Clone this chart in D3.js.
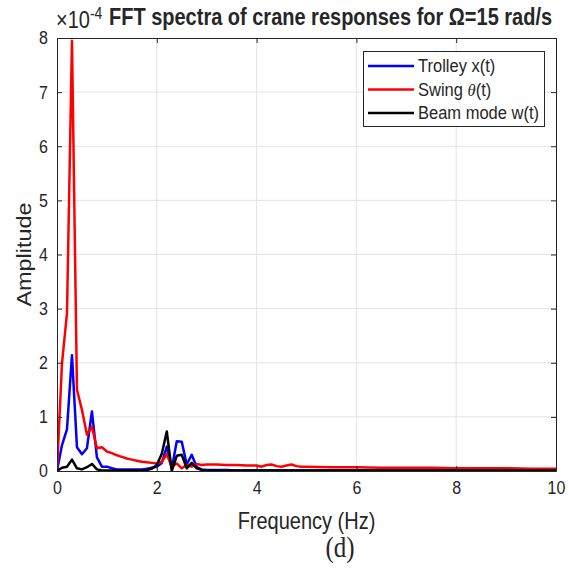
<!DOCTYPE html>
<html>
<head>
<meta charset="utf-8">
<script src="https://cdn.jsdelivr.net/npm/d3@7"></script>
<style>
	body { margin:0; background:white; }
	text { font-family:"Liberation Sans", Arial, sans-serif; fill:#262626; }
</style>
</head>
<body>
<script>
//frequency bins (Hz), amplitudes are in units of 1e-4
var freq = [0,0.1,0.2,0.3,0.4,0.5,0.6,0.7,0.8,0.9,1.0,1.1,1.2,1.3,1.4,1.5,1.6,1.7,1.8,1.9,
	2.0,2.1,2.2,2.3,2.4,2.5,2.6,2.7,2.8,2.9,3.0,3.2,3.4,3.6,3.8,4.0,4.1,4.2,4.3,4.4,
	4.5,4.6,4.7,4.8,4.9,5.0,5.5,6.0,6.5,7.0,7.5,8.0,8.5,9.0,9.5,10.0];

var trolley = [0,0.48,0.77,2.14,0.44,0.31,0.42,1.10,0.25,0.08,0.08,0.05,0.03,0.03,0.03,0.03,0.03,0.03,0.04,0.06,
	0.08,0.15,0.45,0.04,0.55,0.54,0.12,0.30,0.07,0.03,0.02,0.02,0.02,0.01,0.01,0.01,0.01,0.01,0.01,0.01,
	0.01,0.01,0.01,0.01,0.01,0.01,0.01,0.01,0.01,0.01,0.01,0.01,0.0,0.0,0.0,0.0];

var swing = [0,1.99,2.91,7.95,1.50,1.13,0.67,0.82,0.42,0.44,0.36,0.33,0.29,0.26,0.23,0.21,0.19,0.17,0.16,0.15,
	0.14,0.17,0.31,0.08,0.14,0.05,0.11,0.08,0.13,0.11,0.12,0.12,0.11,0.11,0.10,0.10,0.08,0.11,0.12,0.09,
	0.08,0.10,0.12,0.09,0.08,0.08,0.07,0.07,0.06,0.06,0.06,0.05,0.05,0.05,0.04,0.04];

var beam = [0,0.06,0.08,0.21,0.05,0.03,0.07,0.13,0.03,0.01,0.01,0.01,0.01,0.01,0.01,0.01,0.01,0.01,0.02,0.04,
	0.11,0.32,0.73,0.0,0.28,0.30,0.05,0.15,0.05,0.02,0.01,0.01,0.01,0.01,0.01,0.01,0.01,0.01,0.01,0.01,
	0.01,0.01,0.01,0.01,0.01,0.01,0.01,0.01,0.01,0.01,0.01,0.01,0.01,0.01,0.01,0.01];

var x_ticks = [0,2,4,6,8,10];
var y_ticks = [0,1,2,3,4,5,6,7,8];

var series_names = ["Trolley x(t)","Swing \u03B8(t)","Beam mode w(t)"];
var series_colors = ["#0000ff","#ff0000","#000000"];
var series_values = [trolley, swing, beam];

var w = 569,
	h = 568,
	plot = {left:57, top:38, right:556, bottom:471},
	stretch = 1.17; //the source figure text looks a bit taller than wide

var svg = d3.select("body").append("svg")
	.attr("width", w)
	.attr("height", h);

var x = d3.scaleLinear().domain([0,10]).range([plot.left, plot.right]);
var y = d3.scaleLinear().domain([0,8]).range([plot.bottom, plot.top]);

//grid
svg.append("g").selectAll("line").data(x_ticks.slice(1,-1)).enter().append("line")
	.attr("x1", function(d){ return x(d); })
	.attr("x2", function(d){ return x(d); })
	.attr("y1", plot.top)
	.attr("y2", plot.bottom)
	.attr("stroke","#e3e3e3")
	.attr("stroke-width",1);

svg.append("g").selectAll("line").data(y_ticks.slice(1,-1)).enter().append("line")
	.attr("x1", plot.left)
	.attr("x2", plot.right)
	.attr("y1", function(d){ return y(d); })
	.attr("y2", function(d){ return y(d); })
	.attr("stroke","#e3e3e3")
	.attr("stroke-width",1);

svg.append("clipPath").attr("id","clip").append("rect")
	.attr("x", plot.left)
	.attr("y", plot.top - 2)
	.attr("width", plot.right - plot.left)
	.attr("height", plot.bottom - plot.top + 2);

//spectra lines
var line = d3.line()
	.x(function(d){ return x(d[0]); })
	.y(function(d){ return y(d[1]); });

series_values.forEach(function(vals, i){
	svg.append("path")
		.datum(freq.map(function(f, j){ return [f, vals[j]]; }))
		.attr("clip-path","url(#clip)")
		.attr("d", line)
		.attr("fill","none")
		.attr("stroke", series_colors[i])
		.attr("stroke-width",2.5)
		.attr("stroke-linejoin","round");
});

//axes, ticks inward on all four sides
var x_bottom = d3.axisBottom(x).tickValues(x_ticks).tickSizeInner(-5).tickSizeOuter(0).tickPadding(10);
var x_top = d3.axisTop(x).tickValues(x_ticks).tickSizeInner(-5).tickSizeOuter(0).tickFormat("");
var y_left = d3.axisLeft(y).tickValues(y_ticks).tickSizeInner(-5).tickSizeOuter(0).tickPadding(9);
var y_right = d3.axisRight(y).tickValues(y_ticks).tickSizeInner(-5).tickSizeOuter(0).tickFormat("");

var ax = [
	svg.append("g").attr("transform","translate(0," + plot.bottom + ")").call(x_bottom),
	svg.append("g").attr("transform","translate(0," + plot.top + ")").call(x_top),
	svg.append("g").attr("transform","translate(" + plot.left + ",0)").call(y_left),
	svg.append("g").attr("transform","translate(" + plot.right + ",0)").call(y_right)
];
ax.forEach(function(g){
	g.selectAll("path").attr("stroke","#262626").attr("stroke-width",1);
	g.selectAll("line").attr("stroke","#262626");
	g.selectAll("text")
		.style("font-family","'Liberation Sans', Arial, sans-serif")
		.style("font-size","16px")
		.attr("fill","#262626")
		.attr("transform","scale(1," + stretch + ")");
});
//keep bottom labels at the same top after the stretch
ax[0].selectAll("text").attr("y", 10/stretch);

//axis labels
svg.append("text")
	.attr("transform","translate(" + (plot.left + plot.right)/2 + ",529) scale(1," + stretch + ")")
	.attr("text-anchor","middle")
	.style("font-size","20px")
	.text("Frequency (Hz)");

svg.append("text")
	.attr("transform","translate(31," + (plot.top + plot.bottom)/2 + ") rotate(-90) scale(" + stretch + ",1)")
	.attr("text-anchor","middle")
	.style("font-size","20px")
	.text("Amplitude");

//exponent and title
var expo = svg.append("text")
	.attr("transform","translate(56,28) scale(1," + stretch + ")")
	.style("font-size","20px");
expo.append("tspan").text("\u00D710");
expo.append("tspan").attr("dy",-8).style("font-size","14px").text("-4");

svg.append("text")
	.attr("transform","translate(109,25) scale(1," + stretch + ")")
	.style("font-size","20px")
	.style("font-weight","bold")
	.attr("fill","#000")
	.text("FFT spectra of crane responses for \u03A9=15 rad/s");

//legend
var legend = svg.append("g");
legend.append("rect")
	.attr("x",363.5)
	.attr("y",51.5)
	.attr("width",181)
	.attr("height",75)
	.attr("fill","white")
	.attr("stroke","#262626")
	.attr("stroke-width",1);

series_names.forEach(function(name, i){
	var ly = 66 + i*23.5;
	legend.append("line")
		.attr("x1",368)
		.attr("x2",414)
		.attr("y1",ly)
		.attr("y2",ly)
		.attr("stroke",series_colors[i])
		.attr("stroke-width",2.5);
	var t = legend.append("text")
		.attr("transform","translate(418," + (ly + 6) + ") scale(1,1.06)")
		.style("font-size","16.5px")
		.attr("fill","#000");
	if (i == 1){
		t.append("tspan").text("Swing ");
		t.append("tspan").style("font-family","'Liberation Serif', serif").style("font-style","italic").text("\u03B8");
		t.append("tspan").text("(t)");
	} else {
		t.text(name);
	}
});

//panel caption
svg.append("text")
	.attr("transform","translate(340,557) scale(1," + stretch + ")")
	.attr("text-anchor","middle")
	.style("font-family","'Liberation Serif', 'Times New Roman', serif")
	.style("font-size","25px")
	.attr("fill","#000")
	.text("(d)");
</script>
</body>
</html>
